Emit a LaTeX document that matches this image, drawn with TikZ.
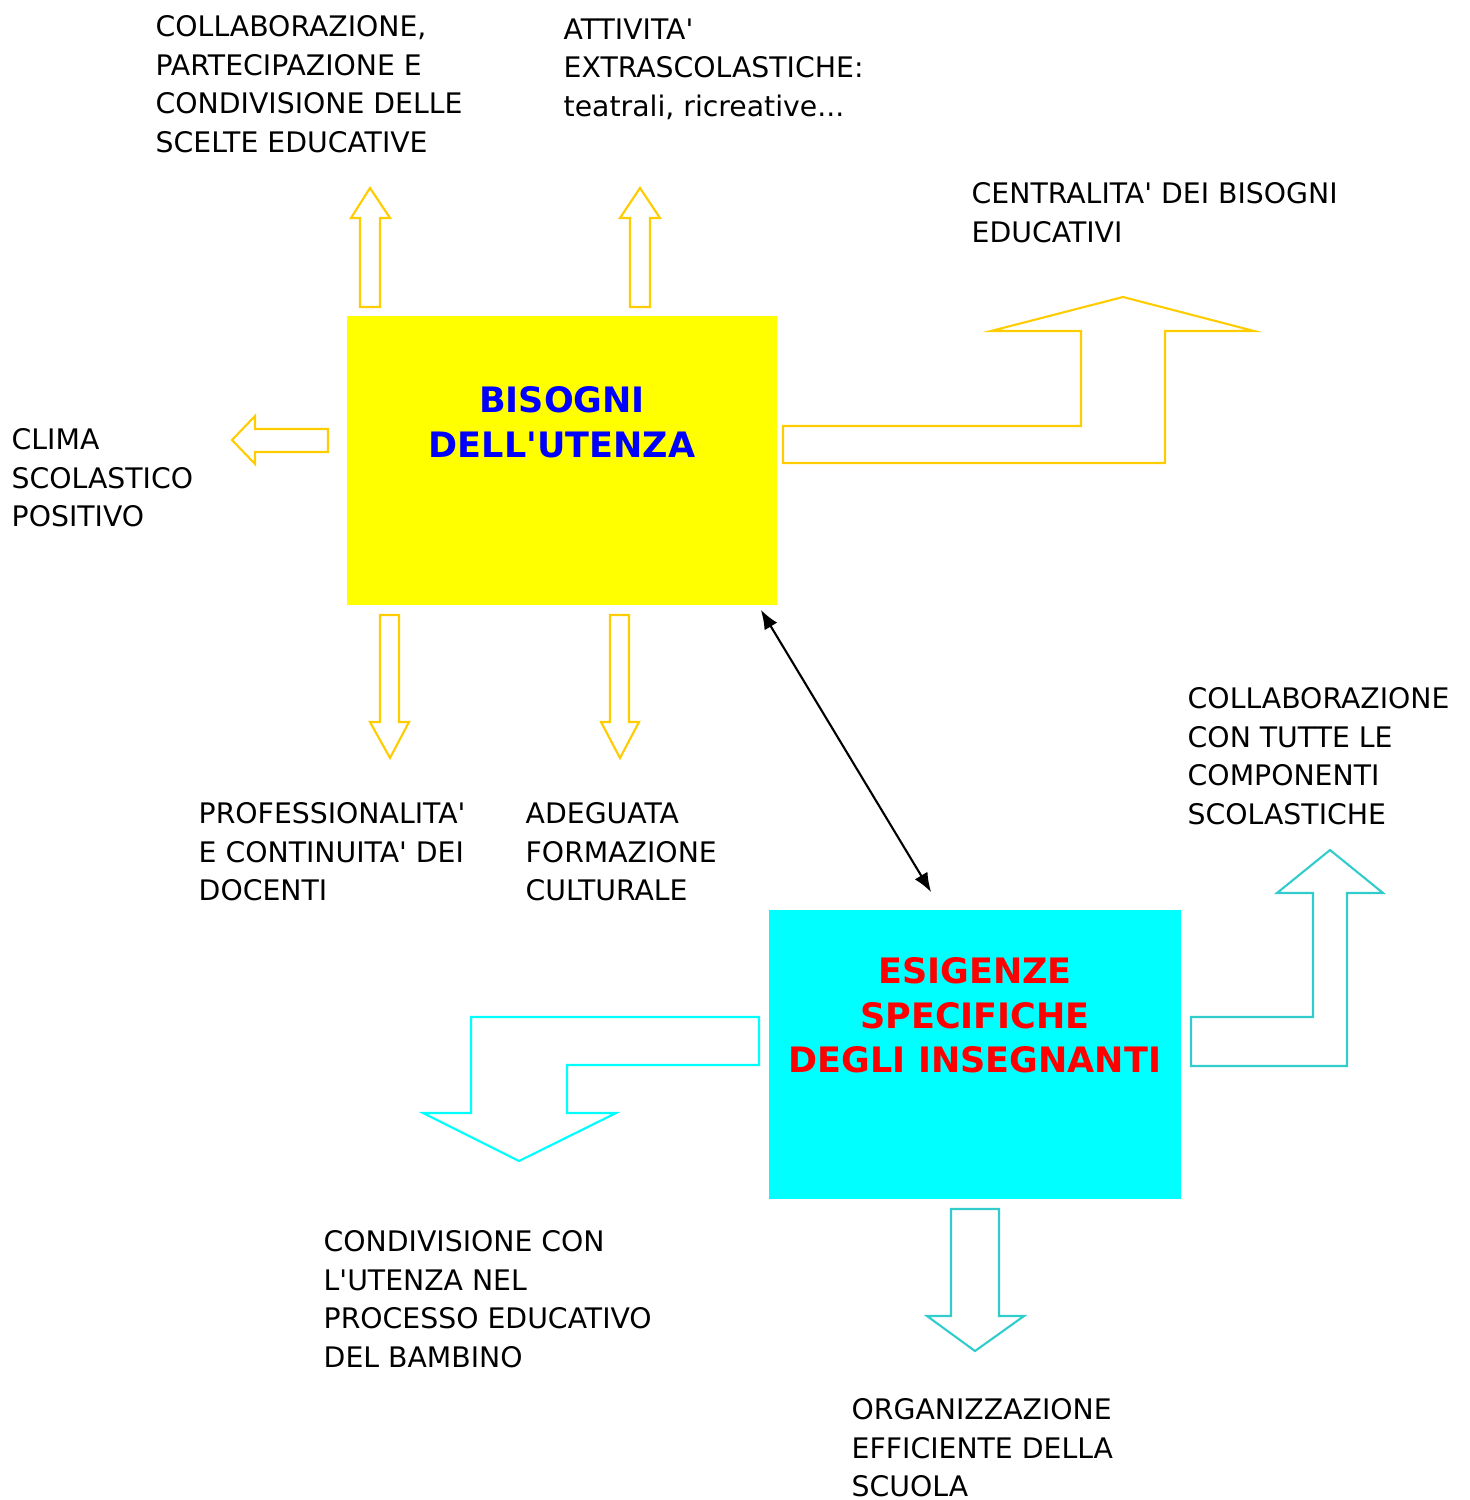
\documentclass[tikz,border=0pt]{standalone}
\usepackage{fontspec}
\setmainfont{DejaVu Sans}
\usepackage{xcolor}
\usetikzlibrary{arrows.meta}
\definecolor{giallo}{HTML}{FFFF00}
\definecolor{oro}{HTML}{FFCC00}
\definecolor{ciano}{HTML}{00FFFF}
\definecolor{turchese}{HTML}{33CCCC}
\definecolor{blu}{HTML}{0000FF}
\definecolor{rosso}{HTML}{FF0000}
\newcommand{\apo}{\textquotesingle}
\begin{document}
\begin{tikzpicture}[x=0.01cm,y=-0.01cm,
	testo/.style={anchor=north west,inner sep=0pt,align=left,font=\fontsize{8.05pt}{10.95pt}\selectfont},
	titolo/.style={inner sep=0pt,align=center,font=\fontsize{9.96pt}{12.66pt}\selectfont\bfseries},
	blocco/.style={line width=0.6pt,line join=miter}]
	\useasboundingbox (0,0) rectangle (1469,1500);
	% i due riquadri
	\node[fill=giallo,inner sep=0pt,minimum width=4.30cm,minimum height=2.89cm] (bis) at (562,460.5) {};
	\node[titolo,text=blu] (bistxt) at (562,422) {BISOGNI\\DELL\apo UTENZA};
	\node[fill=ciano,inner sep=0pt,minimum width=4.12cm,minimum height=2.89cm] (esi) at (975,1054.5) {};
	\node[titolo,text=rosso] (esitxt) at (975,1015.5) {ESIGENZE\\SPECIFICHE\\DEGLI INSEGNANTI};
	% frecce gialle
	\draw[blocco,oro](360,307) -- (360,218) -- (351,218) -- (370,188) -- (390,218) -- (380,218) -- (380,307) -- cycle;
	\draw[blocco,oro](630,307) -- (630,218) -- (620,218) -- (640,188) -- (660,218) -- (650,218) -- (650,307) -- cycle;
	\draw[blocco,oro](328,429) -- (255,429) -- (255,416) -- (232,440) -- (255,464) -- (255,452) -- (328,452) -- cycle;
	\draw[blocco,oro](380,615) -- (399,615) -- (399,722) -- (409,722) -- (390,758) -- (370,722) -- (380,722) -- cycle;
	\draw[blocco,oro](610,615) -- (629,615) -- (629,722) -- (639,722) -- (620,758) -- (601,722) -- (610,722) -- cycle;
	\draw[blocco,oro](783,426) -- (1081,426) -- (1081,331) -- (991,331) -- (1123,297) -- (1254,331) -- (1165,331) -- (1165,463) -- (783,463) -- cycle;
	% frecce azzurre
	\draw[blocco,ciano](759,1017) -- (471,1017) -- (471,1113) -- (423,1113) -- (519,1161) -- (616,1113) -- (567,1113) -- (567,1065) -- (759,1065) -- cycle;
	\draw[blocco,turchese](1191,1017) -- (1313,1017) -- (1313,893) -- (1277,893) -- (1330,850) -- (1383,893) -- (1347,893) -- (1347,1066) -- (1191,1066) -- cycle;
	\draw[blocco,turchese](951,1209) -- (999,1209) -- (999,1316) -- (1024,1316) -- (975,1351) -- (927,1316) -- (951,1316) -- cycle;
	% collegamento
	\draw[{Latex[length=5.5pt,width=4.2pt]}-{Latex[length=5.5pt,width=4.2pt]},black,line width=0.6pt]([shift={(-17,4)}]bis.south east) to ([shift={(163,-17)}]esi.north west);
	% testi
	\node[testo] (collab) at (155,15) {COLLABORAZIONE,\\PARTECIPAZIONE E\\CONDIVISIONE DELLE\\SCELTE EDUCATIVE};
	\node[testo] (attivita) at (563,18) {ATTIVITA\apo\\EXTRASCOLASTICHE:\\teatrali, ricreative...};
	\node[testo] (centralita) at (971,182) {CENTRALITA\apo{} DEI BISOGNI\\EDUCATIVI};
	\node[testo] (clima) at (11,428) {CLIMA\\SCOLASTICO\\POSITIVO};
	\node[testo] (profess) at (198,802) {PROFESSIONALITA\apo\\E CONTINUITA\apo{} DEI\\DOCENTI};
	\node[testo] (adeguata) at (525,802) {ADEGUATA\\FORMAZIONE\\CULTURALE};
	\node[testo] (componenti) at (1187,687) {COLLABORAZIONE\\CON TUTTE LE\\COMPONENTI\\SCOLASTICHE};
	\node[testo] (condiv) at (323,1230) {CONDIVISIONE CON\\L\apo UTENZA NEL\\PROCESSO EDUCATIVO\\DEL BAMBINO};
	\node[testo] (organizz) at (851,1398) {ORGANIZZAZIONE\\EFFICIENTE DELLA\\SCUOLA};
\end{tikzpicture}
\end{document}
